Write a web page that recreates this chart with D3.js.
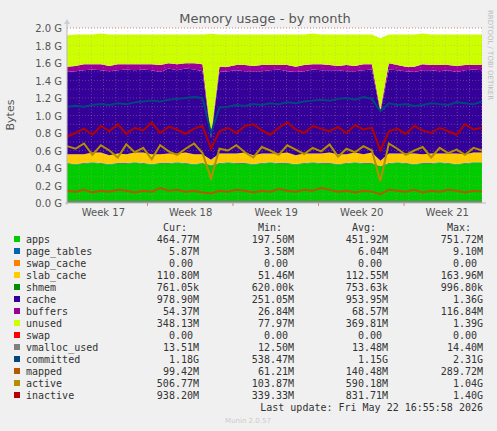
<!DOCTYPE html>
<html>
<head>
<meta charset="UTF-8" />
<script src="https://d3js.org/d3.v7.min.js"></script>
<style>
  body { margin: 0; background: #f0f0f0; }
  text { font-family: "DejaVu Sans", sans-serif; }
  .mono { font-family: "DejaVu Sans Mono", monospace; font-size: 10px; fill: #333; }
</style>
</head>
<body>
<svg width="497" height="431"></svg>
<script>
// values in G, ~50 samples over the month
var apps = [0.45,0.44,0.45,0.46,0.45,0.44,0.45,0.45,0.46,0.45,0.44,0.45,0.45,0.46,0.45,0.44,0.45,0.43,0.45,0.46,0.45,0.45,0.44,0.45,0.46,0.45,0.45,0.44,0.45,0.46,0.45,0.45,0.44,0.45,0.46,0.45,0.45,0.42,0.45,0.46,0.45,0.44,0.45,0.45,0.46,0.45,0.44,0.45,0.46,0.46];
var pageTables = [0.006,0.006,0.006,0.006,0.006,0.006,0.006,0.006,0.006,0.006,0.006,0.006,0.006,0.006,0.006,0.006,0.006,0.004,0.006,0.006,0.006,0.006,0.006,0.006,0.006,0.006,0.006,0.006,0.006,0.006,0.006,0.006,0.006,0.006,0.006,0.006,0.006,0.004,0.006,0.006,0.006,0.006,0.006,0.006,0.006,0.006,0.006,0.006,0.006,0.006];
var slab = [0.10,0.11,0.10,0.11,0.12,0.10,0.11,0.10,0.11,0.12,0.11,0.10,0.11,0.10,0.12,0.11,0.10,0.06,0.11,0.10,0.11,0.12,0.10,0.11,0.10,0.11,0.12,0.10,0.11,0.10,0.11,0.12,0.11,0.10,0.11,0.10,0.12,0.06,0.11,0.10,0.11,0.12,0.10,0.11,0.10,0.11,0.12,0.10,0.11,0.11];
var cache = [0.94,0.95,0.96,0.95,0.94,0.96,0.95,0.97,0.94,0.95,0.96,0.94,0.97,0.95,0.96,0.97,0.95,0.25,0.93,0.94,0.95,0.93,0.96,0.94,0.95,0.96,0.93,0.95,0.94,0.96,0.95,0.94,0.96,0.95,0.93,0.96,0.95,0.55,0.96,0.95,0.94,0.93,0.96,0.95,0.94,0.95,0.93,0.96,0.95,0.94];
var buffers = [0.06,0.06,0.07,0.06,0.07,0.06,0.07,0.06,0.07,0.06,0.07,0.08,0.06,0.07,0.06,0.07,0.08,0.03,0.06,0.05,0.06,0.07,0.06,0.07,0.06,0.05,0.07,0.06,0.07,0.06,0.07,0.06,0.05,0.07,0.06,0.07,0.06,0.03,0.07,0.06,0.05,0.06,0.07,0.06,0.07,0.06,0.07,0.06,0.05,0.06];
var unused = [0.36,0.36,0.34,0.34,0.35,0.36,0.34,0.34,0.34,0.34,0.34,0.35,0.33,0.34,0.33,0.33,0.34,1.16,0.37,0.37,0.35,0.35,0.36,0.35,0.35,0.35,0.35,0.37,0.35,0.35,0.34,0.35,0.36,0.35,0.36,0.34,0.34,0.82,0.33,0.35,0.37,0.37,0.35,0.35,0.35,0.35,0.36,0.35,0.35,0.35];
var committed = [1.10,1.11,1.10,1.12,1.13,1.12,1.14,1.13,1.15,1.16,1.17,1.16,1.18,1.19,1.20,1.21,1.20,0.80,1.09,1.10,1.12,1.11,1.13,1.12,1.14,1.13,1.15,1.14,1.16,1.17,1.18,1.17,1.19,1.20,1.18,1.21,1.19,1.05,1.14,1.12,1.13,1.11,1.12,1.14,1.13,1.12,1.15,1.14,1.13,1.16];
var mapped = [0.14,0.13,0.15,0.12,0.14,0.13,0.15,0.14,0.12,0.14,0.13,0.17,0.14,0.15,0.13,0.14,0.12,0.11,0.14,0.13,0.15,0.14,0.12,0.14,0.13,0.16,0.14,0.13,0.15,0.14,0.17,0.15,0.13,0.14,0.12,0.14,0.13,0.10,0.15,0.14,0.13,0.15,0.12,0.14,0.13,0.15,0.14,0.12,0.14,0.13];
var active = [0.65,0.62,0.68,0.55,0.66,0.60,0.52,0.67,0.58,0.63,0.50,0.66,0.59,0.55,0.62,0.68,0.57,0.28,0.62,0.60,0.66,0.58,0.52,0.64,0.60,0.55,0.66,0.61,0.56,0.63,0.59,0.67,0.53,0.62,0.58,0.65,0.60,0.25,0.68,0.62,0.55,0.60,0.64,0.52,0.63,0.57,0.61,0.55,0.63,0.60];
var inactive = [0.76,0.80,0.85,0.78,0.88,0.82,0.90,0.79,0.86,0.83,0.92,0.80,0.87,0.84,0.79,0.85,0.88,0.62,0.82,0.86,0.80,0.88,0.90,0.83,0.78,0.86,0.92,0.84,0.80,0.88,0.85,0.82,0.87,0.80,0.89,0.84,0.86,0.60,0.82,0.85,0.79,0.88,0.83,0.80,0.86,0.82,0.78,0.90,0.84,0.86];
var vmalloc = apps.map(function () { return 0.0135; });

var weekLabels = ["Week 17", "Week 18", "Week 19", "Week 20", "Week 21"];
var weekPos = [4.3, 14.6, 24.7, 34.8, 44.9];
var weekBounds = [9.5, 19.6, 29.7, 39.8];
var yTicks = [0, 0.2, 0.4, 0.6, 0.8, 1.0, 1.2, 1.4, 1.6, 1.8, 2.0];

var legendRows = [
  ["apps", "#00CC00", "464.77M", "197.50M", "451.92M", "751.72M"],
  ["page_tables", "#0066B3", "5.87M", "3.58M", "6.04M", "9.10M"],
  ["swap_cache", "#FF8000", "0.00", "0.00", "0.00", "0.00"],
  ["slab_cache", "#FFCC00", "110.80M", "51.46M", "112.55M", "163.96M"],
  ["shmem", "#008F00", "761.05k", "620.00k", "753.63k", "996.80k"],
  ["cache", "#330099", "978.90M", "251.05M", "953.95M", "1.36G"],
  ["buffers", "#990099", "54.37M", "26.84M", "68.57M", "116.84M"],
  ["unused", "#CCFF00", "348.13M", "77.97M", "369.81M", "1.39G"],
  ["swap", "#FF0000", "0.00", "0.00", "0.00", "0.00"],
  ["vmalloc_used", "#808080", "13.51M", "12.50M", "13.48M", "14.40M"],
  ["committed", "#00487D", "1.18G", "538.47M", "1.15G", "2.31G"],
  ["mapped", "#B35A00", "99.42M", "61.21M", "140.48M", "289.72M"],
  ["active", "#B38F00", "506.77M", "103.87M", "590.18M", "1.04G"],
  ["inactive", "#B30000", "938.20M", "339.33M", "831.71M", "1.40G"]
];

var svg = d3.select("svg");
var pl = 67, pr = 482, pt = 28, pb = 203;
var x = d3.scaleLinear().domain([0, apps.length - 1]).range([pl, pr]);
var y = d3.scaleLinear().domain([0, 2.0]).range([pb, pt]);

svg.append("rect").attr("x", pl).attr("y", pt).attr("width", pr - pl).attr("height", pb - pt).attr("fill", "#fff");

// stack
var layers = [
  [apps, "#00CC00"], [pageTables, "#0066B3"], [slab, "#FFCC00"],
  [cache, "#330099"], [buffers, "#990099"], [unused, "#CCFF00"]
];
var base = apps.map(function () { return 0; });
layers.forEach(function (l) {
  var lo = base.slice();
  var hi = base.map(function (b, i) { return b + l[0][i]; });
  var area = d3.area().x(function (d, i) { return x(i); })
    .y0(function (d, i) { return y(lo[i]); })
    .y1(function (d, i) { return y(hi[i]); });
  svg.append("path").datum(hi).attr("d", area).attr("fill", l[1]);
  base = hi;
});

// grid
var g = svg.append("g");
d3.range(0.1, 2.0, 0.1).forEach(function (v) {
  g.append("line").attr("x1", pl).attr("x2", pr).attr("y1", y(v)).attr("y2", y(v))
    .attr("stroke", Math.abs(v * 5 - Math.round(v * 5)) < 0.01 ? "#e08080" : "#c8a0a0")
    .attr("stroke-opacity", 0.6).attr("stroke-width", 0.6).attr("stroke-dasharray", "1,2");
});
d3.range(0, apps.length, 1.44).forEach(function (v) {
  g.append("line").attr("x1", x(v)).attr("x2", x(v)).attr("y1", pt).attr("y2", pb)
    .attr("stroke", "#c8a0a0").attr("stroke-opacity", 0.6).attr("stroke-width", 0.6).attr("stroke-dasharray", "1,2");
});
g.append("line").attr("x1", pl).attr("x2", pr).attr("y1", y(2.0)).attr("y2", y(2.0))
  .attr("stroke", "#e08080").attr("stroke-dasharray", "1,2");

// lines
var lines = [
  [vmalloc, "#808080"], [committed, "#00487D"], [mapped, "#B35A00"],
  [active, "#B38F00"], [inactive, "#B30000"]
];
lines.forEach(function (l) {
  svg.append("path").datum(l[0])
    .attr("d", d3.line().x(function (d, i) { return x(i); }).y(function (d) { return y(d); }))
    .attr("fill", "none").attr("stroke", l[1]).attr("stroke-width", 2);
});

// axes
svg.append("line").attr("x1", pl - 2).attr("x2", pr + 4).attr("y1", pb).attr("y2", pb).attr("stroke", "#bbb");
svg.append("line").attr("x1", pl).attr("x2", pl).attr("y1", pb + 2).attr("y2", pt - 6).attr("stroke", "#bbb");
svg.append("path").attr("d", "M" + (pl - 3) + "," + (pt - 4) + "L" + pl + "," + (pt - 9) + "L" + (pl + 3) + "," + (pt - 4) + "Z").attr("fill", "#ccd");

yTicks.forEach(function (v) {
  svg.append("text").attr("x", pl - 5).attr("y", y(v) + 4).attr("text-anchor", "end")
    .attr("font-size", 10).attr("fill", "#555").text(v.toFixed(1) + " G");
});
weekPos.forEach(function (p, i) {
  svg.append("text").attr("x", x(p)).attr("y", 216).attr("text-anchor", "middle")
    .attr("font-size", 10).attr("fill", "#555").text(weekLabels[i]);
});
weekBounds.forEach(function (p) {
  svg.append("line").attr("x1", x(p)).attr("x2", x(p)).attr("y1", pb).attr("y2", pb + 3).attr("stroke", "#e08080");
});

svg.append("text").attr("x", 265).attr("y", 23).attr("text-anchor", "middle").attr("font-size", 13).attr("fill", "#555").text("Memory usage - by month");
svg.append("text").attr("transform", "translate(14,115) rotate(-90)").attr("text-anchor", "middle").attr("font-size", 11).attr("fill", "#555").text("Bytes");
svg.append("text").attr("transform", "translate(488,10) rotate(90)").attr("font-size", 7).attr("fill", "#bbb").text("RRDTOOL / TOBI OETIKER");

// legend
var cols = [199, 294, 388, 483];
["Cur:", "Min:", "Avg:", "Max:"].forEach(function (h, i) {
  svg.append("text").attr("class", "mono").attr("x", cols[i] - 12).attr("y", 231).attr("text-anchor", "end").text(h);
});
legendRows.forEach(function (r, i) {
  var yy = 243 + i * 12;
  svg.append("rect").attr("x", 14).attr("y", yy - 7).attr("width", 6).attr("height", 6).attr("fill", r[1]);
  svg.append("text").attr("class", "mono").attr("x", 26).attr("y", yy).text(r[0]);
  for (var c = 0; c < 4; c++) {
    var v = r[c + 2];
    var off = v === "0.00" ? 6 : 0;
    svg.append("text").attr("class", "mono").attr("x", cols[c] - off).attr("y", yy).attr("text-anchor", "end").text(v);
  }
});
svg.append("text").attr("class", "mono").attr("x", 483).attr("y", 411).attr("text-anchor", "end").text("Last update: Fri May 22 16:55:58 2026");
svg.append("text").attr("x", 248).attr("y", 423).attr("text-anchor", "middle").attr("font-size", 7).attr("fill", "#ccc").text("Munin 2.0.57");
</script>
</body>
</html>
